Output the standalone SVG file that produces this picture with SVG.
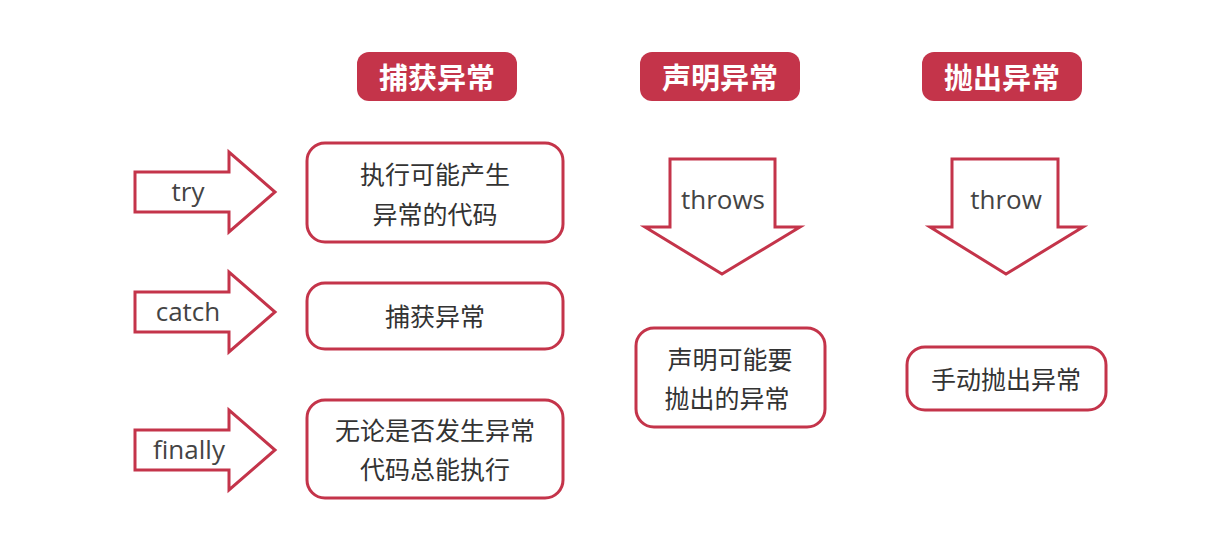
<svg xmlns="http://www.w3.org/2000/svg" width="1228" height="546" viewBox="0 0 1228 546">
<style>
.hd{fill:#c4344a}
.ht{fill:#fff;font:bold 29px "Noto Sans CJK SC",sans-serif;text-anchor:middle;dominant-baseline:central}
.bx{fill:#fff;stroke:#c4344a;stroke-width:3}
.t{fill:#333;font:25px "Noto Sans CJK SC",sans-serif;text-anchor:middle;dominant-baseline:central}
.ar{fill:#fff;stroke:#c4344a;stroke-width:3;stroke-linejoin:miter}
.at{fill:#444;font:26px "Open Sans","Noto Sans",sans-serif;text-anchor:middle;dominant-baseline:central}
</style>
<rect width="1228" height="546" fill="#fff"/>
<g id="h1"><rect class="hd" x="357" y="52" width="160" height="49" rx="12"/><text class="ht" x="437" y="76">捕获异常</text></g>
<g id="h2"><rect class="hd" x="640" y="52" width="160" height="49" rx="12"/><text class="ht" x="720" y="76">声明异常</text></g>
<g id="h3"><rect class="hd" x="922" y="52" width="160" height="49" rx="12"/><text class="ht" x="1002" y="76">抛出异常</text></g>
<g id="connectors">
<g id="a-try"><path class="ar" d="M135 172H229V152L275 192L229 232V212H135Z"/><text class="at" x="188" y="191">try</text></g>
<g id="a-catch"><path class="ar" d="M135 292H229V272L275 312L229 352V332H135Z"/><text class="at" x="188" y="311">catch</text></g>
<g id="a-finally"><path class="ar" d="M135 430H229V410L275 450L229 490V470H135Z"/><text class="at" x="189" y="449">finally</text></g>
<g id="a-throws"><path class="ar" d="M670 159H775V227H800L722 274L645 227H670Z"/><text class="at" x="723" y="199">throws</text></g>
<g id="a-throw"><path class="ar" d="M952 159H1058V227H1083L1006 274L930 227H952Z"/><text class="at" x="1006" y="199">throw</text></g>
</g>
<g id="b1"><rect class="bx" x="307" y="143" width="256" height="99" rx="18"/><text class="t" x="435" y="173">执行可能产生</text><text class="t" x="435" y="213">异常的代码</text></g>
<g id="b2"><rect class="bx" x="307" y="283" width="256" height="66" rx="18"/><text class="t" x="435" y="315">捕获异常</text></g>
<g id="b3"><rect class="bx" x="307" y="400" width="256" height="98" rx="18"/><text class="t" x="435" y="429">无论是否发生异常</text><text class="t" x="435" y="468">代码总能执行</text></g>
<g id="b4"><rect class="bx" x="636" y="328" width="189" height="99" rx="18"/><text class="t" x="730" y="358">声明可能要</text><text class="t" x="727" y="397">抛出的异常</text></g>
<g id="b5"><rect class="bx" x="907" y="347" width="199" height="63" rx="18"/><text class="t" x="1006" y="378">手动抛出异常</text></g>
</svg>
